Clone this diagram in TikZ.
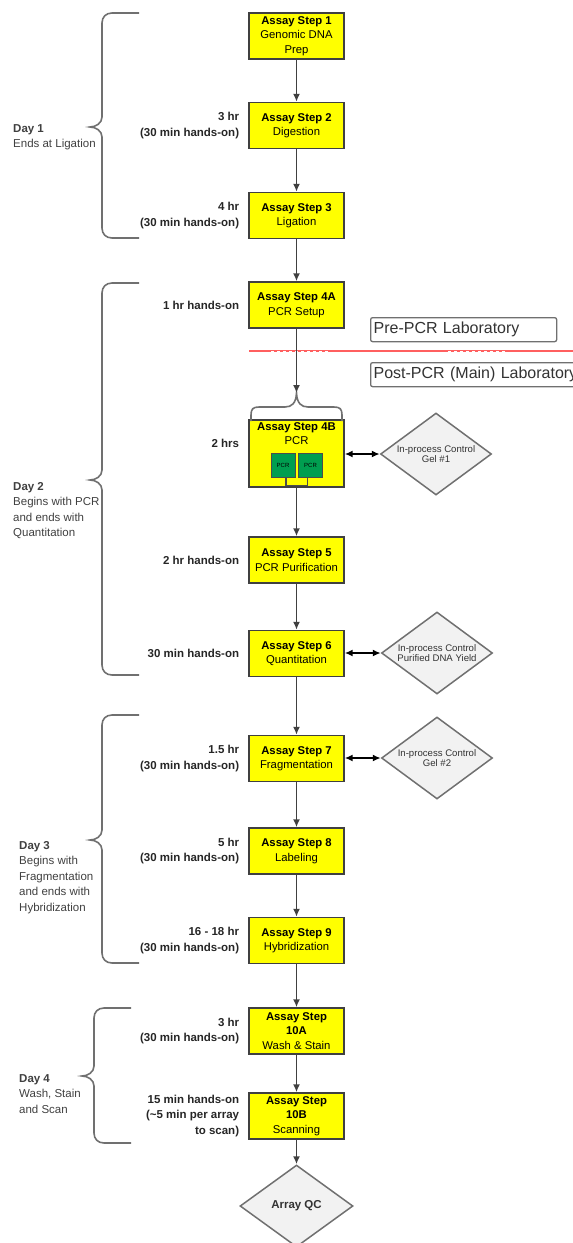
\documentclass[tikz,border=0pt]{standalone}
\usepackage{fontspec}
\setmainfont{Liberation Sans}
\usetikzlibrary{arrows.meta,positioning,shapes.geometric}

\definecolor{stepyellow}{RGB}{255,255,0}
\definecolor{pcrgreen}{RGB}{0,158,80}
\definecolor{linegray}{RGB}{64,64,64}
\definecolor{bracegray}{RGB}{112,112,112}
\definecolor{labred}{RGB}{255,95,95}
\definecolor{qcfill}{RGB}{242,242,242}

\tikzset{
  stepbox/.style={draw=linegray, line width=1.4pt, fill=stepyellow, minimum width=95pt,
    minimum height=46pt, inner sep=0pt, align=center, font=\fontsize{11.3}{14.5}\selectfont},
  pcrbox/.style={draw=gray!60!black, line width=0.8pt, fill=pcrgreen, minimum size=24pt,
    inner sep=0pt, font=\fontsize{6}{6}\selectfont},
  timelabel/.style={align=right, inner sep=0pt, text=black!85,
    font=\bfseries\fontsize{11.5}{15.5}\selectfont},
  daylabel/.style={align=left, inner sep=0pt, text=black!75, anchor=north west,
    font=\fontsize{11.5}{15.5}\selectfont},
  checkbox/.style={diamond, aspect=1.35, draw=bracegray, line width=1.5pt, fill=qcfill,
    minimum width=111pt, minimum height=82pt, inner sep=0pt, align=center, text=black!80,
    font=\fontsize{9.6}{10.5}\selectfont},
  labbox/.style={draw=bracegray, line width=1.3pt, fill=white, rounded corners=2pt,
    minimum height=24pt, inner sep=3pt, anchor=north west, align=left, text=black!80,
    font=\fontsize{16}{18}\selectfont},
  flow/.style={draw=linegray, line width=1.6pt, -{Latex[length=8pt,width=7pt]}},
  twoway/.style={draw=black, line width=1.6pt, {Latex[length=8pt,width=7pt]}-{Latex[length=8pt,width=7pt]}},
  bracestyle/.style={draw=bracegray, line width=1.6pt},
}

\begin{document}
\begin{tikzpicture}[x=1pt, y=-1pt]
    \useasboundingbox (0,0) rectangle (573,1243);
    \clip (0,0) rectangle (573,1243);

    % day braces
    \foreach \bx/\btop/\btip/\bbot in {102/13/127/238, 102/283/480/675, 102/715/840/963, 94/1008/1076/1143}
        \draw[bracestyle] (\bx+37,\btop) -- (\bx+10,\btop) .. controls (\bx+4,\btop) and (\bx,\btop+4) .. (\bx,\btop+10)
            -- (\bx,\btip-10) .. controls (\bx,\btip-4) and (\bx-6,\btip) .. (\bx-12,\btip)
            .. controls (\bx-6,\btip) and (\bx,\btip+4) .. (\bx,\btip+10)
            -- (\bx,\bbot-10) .. controls (\bx,\bbot-4) and (\bx+4,\bbot) .. (\bx+10,\bbot) -- (\bx+37,\bbot);

    \node[daylabel] (d1) at (13,124) {\textbf{Day 1}\\Ends at Ligation};
    \node[daylabel] (d2) at (13,482) {\textbf{Day 2}\\Begins with PCR\\and ends with\\Quantitation};
    \node[daylabel] (d3) at (19,841) {\textbf{Day 3}\\Begins with\\Fragmentation\\and ends with\\Hybridization};
    \node[daylabel] (d4) at (19,1074) {\textbf{Day 4}\\Wash, Stain\\and Scan};

    % laboratories
    \node[labbox, text width=180pt] (pre) at (370,317) {Pre-PCR Laboratory};
    \node[labbox, text width=240pt] (post) at (370,362) {Post-PCR (Main) Laboratory};
    \draw[labred, line width=2pt] (249,351) -- (573,351);
    \draw[white, line width=0.8pt, dash pattern=on 3pt off 3pt] (271,351) -- (329,351) (448,351) -- (507,351);

    % assay steps
    \node[stepbox] (s1) at (296.5,36) {\textbf{Assay Step 1}\\Genomic DNA\\Prep};
    \node[stepbox] (s2) at (296.5,125.5) {\textbf{Assay Step 2}\\Digestion};
    \node[stepbox] (s3) at (296.5,215.5) {\textbf{Assay Step 3}\\Ligation};
    \node[stepbox] (s4a) at (296.5,305) {\textbf{Assay Step 4A}\\PCR Setup};
    \node[stepbox, minimum height=67pt] (s4b) at (296.5,453.5) {};
    \node[align=center, inner sep=0pt, anchor=north, font=\fontsize{11.3}{14.5}\selectfont] (s4btext)
        at ([yshift=-3pt]s4b.north) {\textbf{Assay Step 4B}\\PCR};
    \node[pcrbox] (pcr1) at (283,465) {PCR};
    \node[pcrbox] (pcr2) at (310.5,465) {PCR};
    \node[stepbox] (s5) at (296.5,560) {\textbf{Assay Step 5}\\PCR Purification};
    \node[stepbox] (s6) at (296.5,653.5) {\textbf{Assay Step 6}\\Quantitation};
    \node[stepbox] (s7) at (296.5,758.5) {\textbf{Assay Step 7}\\Fragmentation};
    \node[stepbox] (s8) at (296.5,851) {\textbf{Assay Step 8}\\Labeling};
    \node[stepbox] (s9) at (296.5,940.5) {\textbf{Assay Step 9}\\Hybridization};
    \node[stepbox] (s10a) at (296.5,1031) {\textbf{Assay Step}\\\textbf{10A}\\Wash \& Stain};
    \node[stepbox] (s10b) at (296.5,1116) {\textbf{Assay Step}\\\textbf{10B}\\Scanning};
    \node[checkbox, minimum width=113pt, font=\bfseries\fontsize{11.5}{13}\selectfont] (qc) at (296.5,1206) {Array QC};

    % times
    \node[timelabel, left=9pt of s2] (t2) {3 hr\\(30 min hands-on)};
    \node[timelabel, left=9pt of s3] (t3) {4 hr\\(30 min hands-on)};
    \node[timelabel, left=9pt of s4a] (t4a) {1 hr hands-on};
    \node[timelabel, left=9pt of s4b, yshift=10.5pt] (t4b) {2 hrs};
    \node[timelabel, left=9pt of s5] (t5) {2 hr hands-on};
    \node[timelabel, left=9pt of s6] (t6) {30 min hands-on};
    \node[timelabel, left=9pt of s7] (t7) {1.5 hr\\(30 min hands-on)};
    \node[timelabel, left=9pt of s8] (t8) {5 hr\\(30 min hands-on)};
    \node[timelabel, left=9pt of s9] (t9) {16 - 18 hr\\(30 min hands-on)};
    \node[timelabel, left=9pt of s10a] (t10a) {3 hr\\(30 min hands-on)};
    \node[timelabel, left=9pt of s10b] (t10b) {15 min hands-on\\(\textasciitilde5 min per array\\to scan)};

    % in-process controls
    \node[checkbox] (gel1) at (436,454) {In-process Control\\Gel \#1};
    \node[checkbox] (yield) at (437,653) {In-process Control\\Purified DNA Yield};
    \node[checkbox] (gel2) at (437,758) {In-process Control\\Gel \#2};

    % brace over step 4B
    \coordinate (s4btip) at (296.5,393);
    \draw[bracestyle] (251,421) -- (251,415) .. controls (251,409) and (253,407) .. (259,407) -- (285,407)
        .. controls (292,407) and (296,403) .. (s4btip)
        .. controls (297,403) and (301,407) .. (308,407) -- (334,407)
        .. controls (340,407) and (342,409) .. (342,415) -- (342,421);
    \draw[draw=gray!60!black, line width=1.2pt] ([xshift=3pt]pcr1.south) -- ++(0,8) -| ([xshift=-3pt]pcr2.south);

    % arrows
    \draw[flow] (s1) -- (s2);
    \draw[flow] (s2) -- (s3);
    \draw[flow] (s3) -- (s4a);
    \draw[flow] (s4a) -- (s4btip);
    \draw[flow] (s4b) -- (s5);
    \draw[flow] (s5) -- (s6);
    \draw[flow] (s6) -- (s7);
    \draw[flow] (s7) -- (s8);
    \draw[flow] (s8) -- (s9);
    \draw[flow] (s9) -- (s10a);
    \draw[flow] (s10a) -- (s10b);
    \draw[flow] (s10b) -- (qc);
    \draw[twoway] (s4b.east |- gel1) -- (gel1);
    \draw[twoway] (s6.east |- yield) -- (yield);
    \draw[twoway] (s7.east |- gel2) -- (gel2);
\end{tikzpicture}
\end{document}
